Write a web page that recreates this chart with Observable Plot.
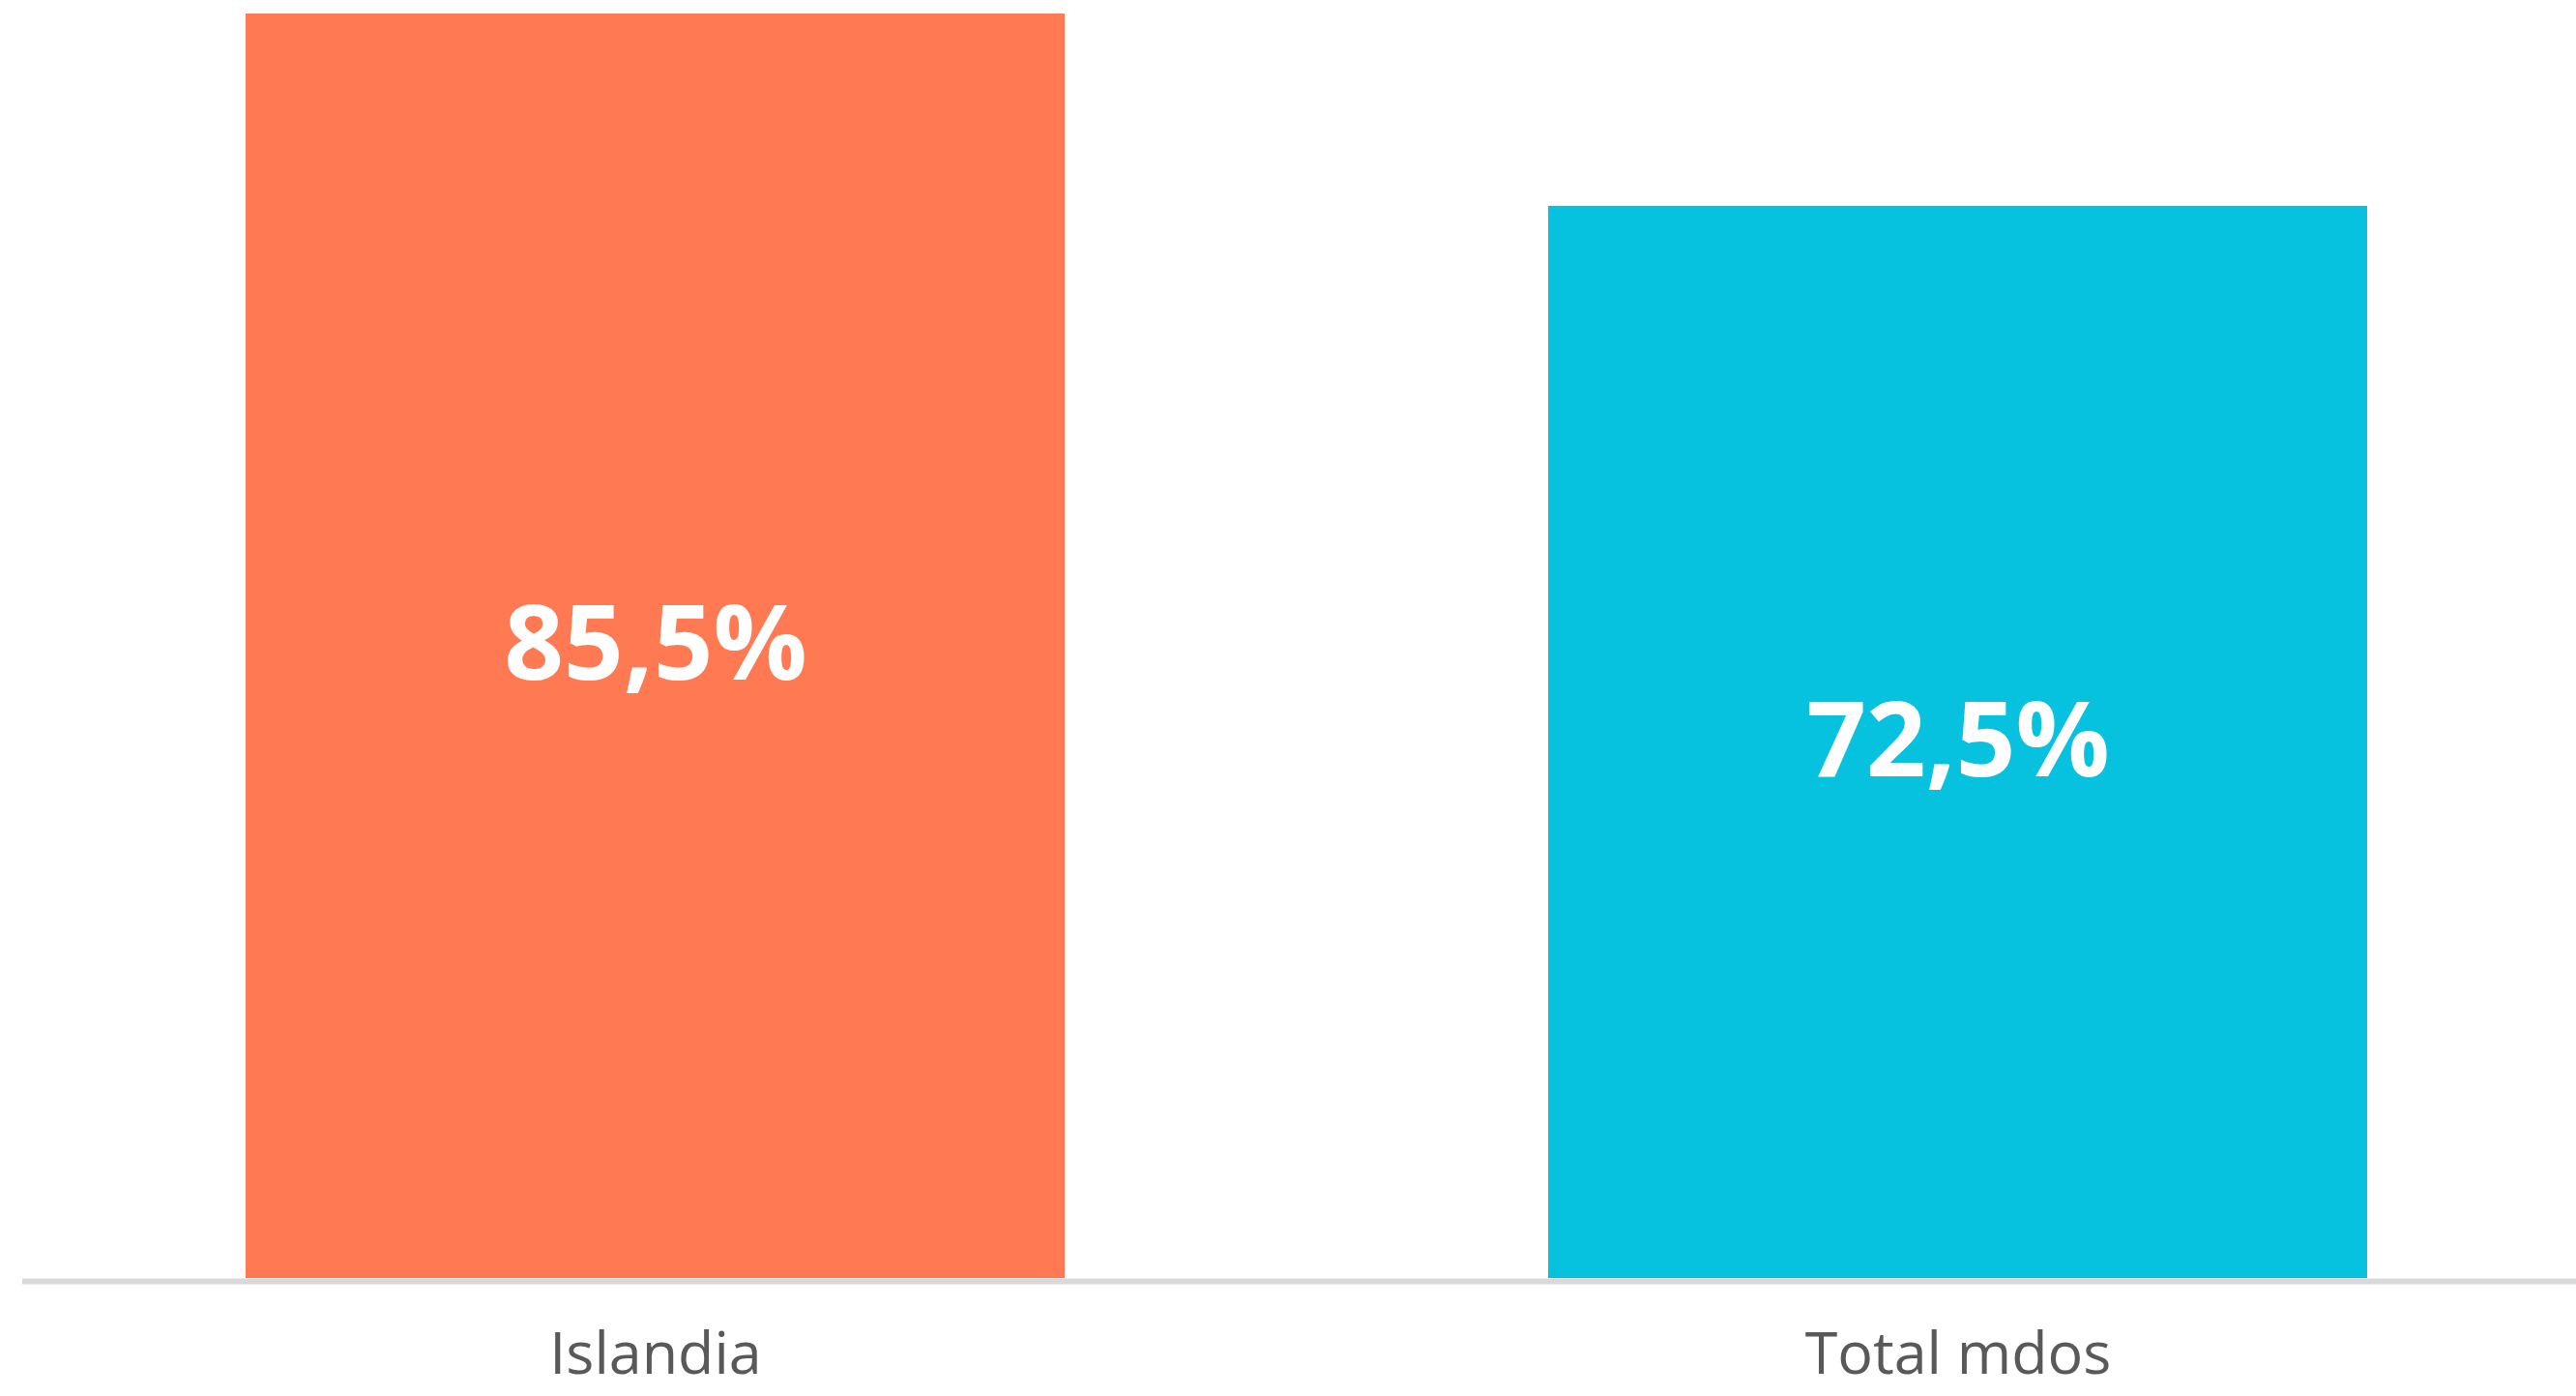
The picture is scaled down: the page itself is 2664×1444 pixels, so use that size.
<!DOCTYPE html>
<html>
<head>
<meta charset="utf-8">
<script src="https://cdn.jsdelivr.net/npm/d3@7"></script>
<script src="https://cdn.jsdelivr.net/npm/@observablehq/plot@0.6"></script>
<style>
  html, body { margin: 0; padding: 0; background: #ffffff; overflow: hidden; }
  #chart svg { display: block; }
</style>
</head>
<body>
<div id="chart"></div>
<script>
const categories = ["Islandia", "Total mdos"];
const values = [85.5, 72.5];
const colors = ["#FF7A53", "#06C2DF"];

const data = categories.map((c, i) => ({
  category: c,
  value: values[i],
  color: colors[i],
  label: values[i].toFixed(1).replace(".", ",") + "%"
}));

const chart = Plot.plot({
  width: 2664,
  height: 1444,
  marginTop: 14,
  marginBottom: 122,
  marginLeft: 23,
  marginRight: 0,
  style: { fontFamily: "'Open Sans', sans-serif", background: "#ffffff" },
  x: {
    domain: categories,
    paddingInner: 0.371,
    paddingOuter: 0.1651,
    align: 0.516,
    label: null
  },
  y: { domain: [0, d3.max(values)], axis: null },
  marks: [
    Plot.barY(data, { x: "category", y: "value", fill: "color" }),
    Plot.ruleY([0], { stroke: "#d9d9d9", strokeWidth: 6, dy: 3 }),
    Plot.text(data, {
      x: "category",
      y: d => d.value / 2,
      text: "label",
      fill: "#ffffff",
      fontSize: 108,
      fontWeight: 700
    }),
    Plot.axisX({
      tickSize: 0,
      tickPadding: 55,
      fontSize: 61,
      color: "#595959",
      label: null
    })
  ]
});
document.getElementById("chart").appendChild(chart);
</script>
</body>
</html>
